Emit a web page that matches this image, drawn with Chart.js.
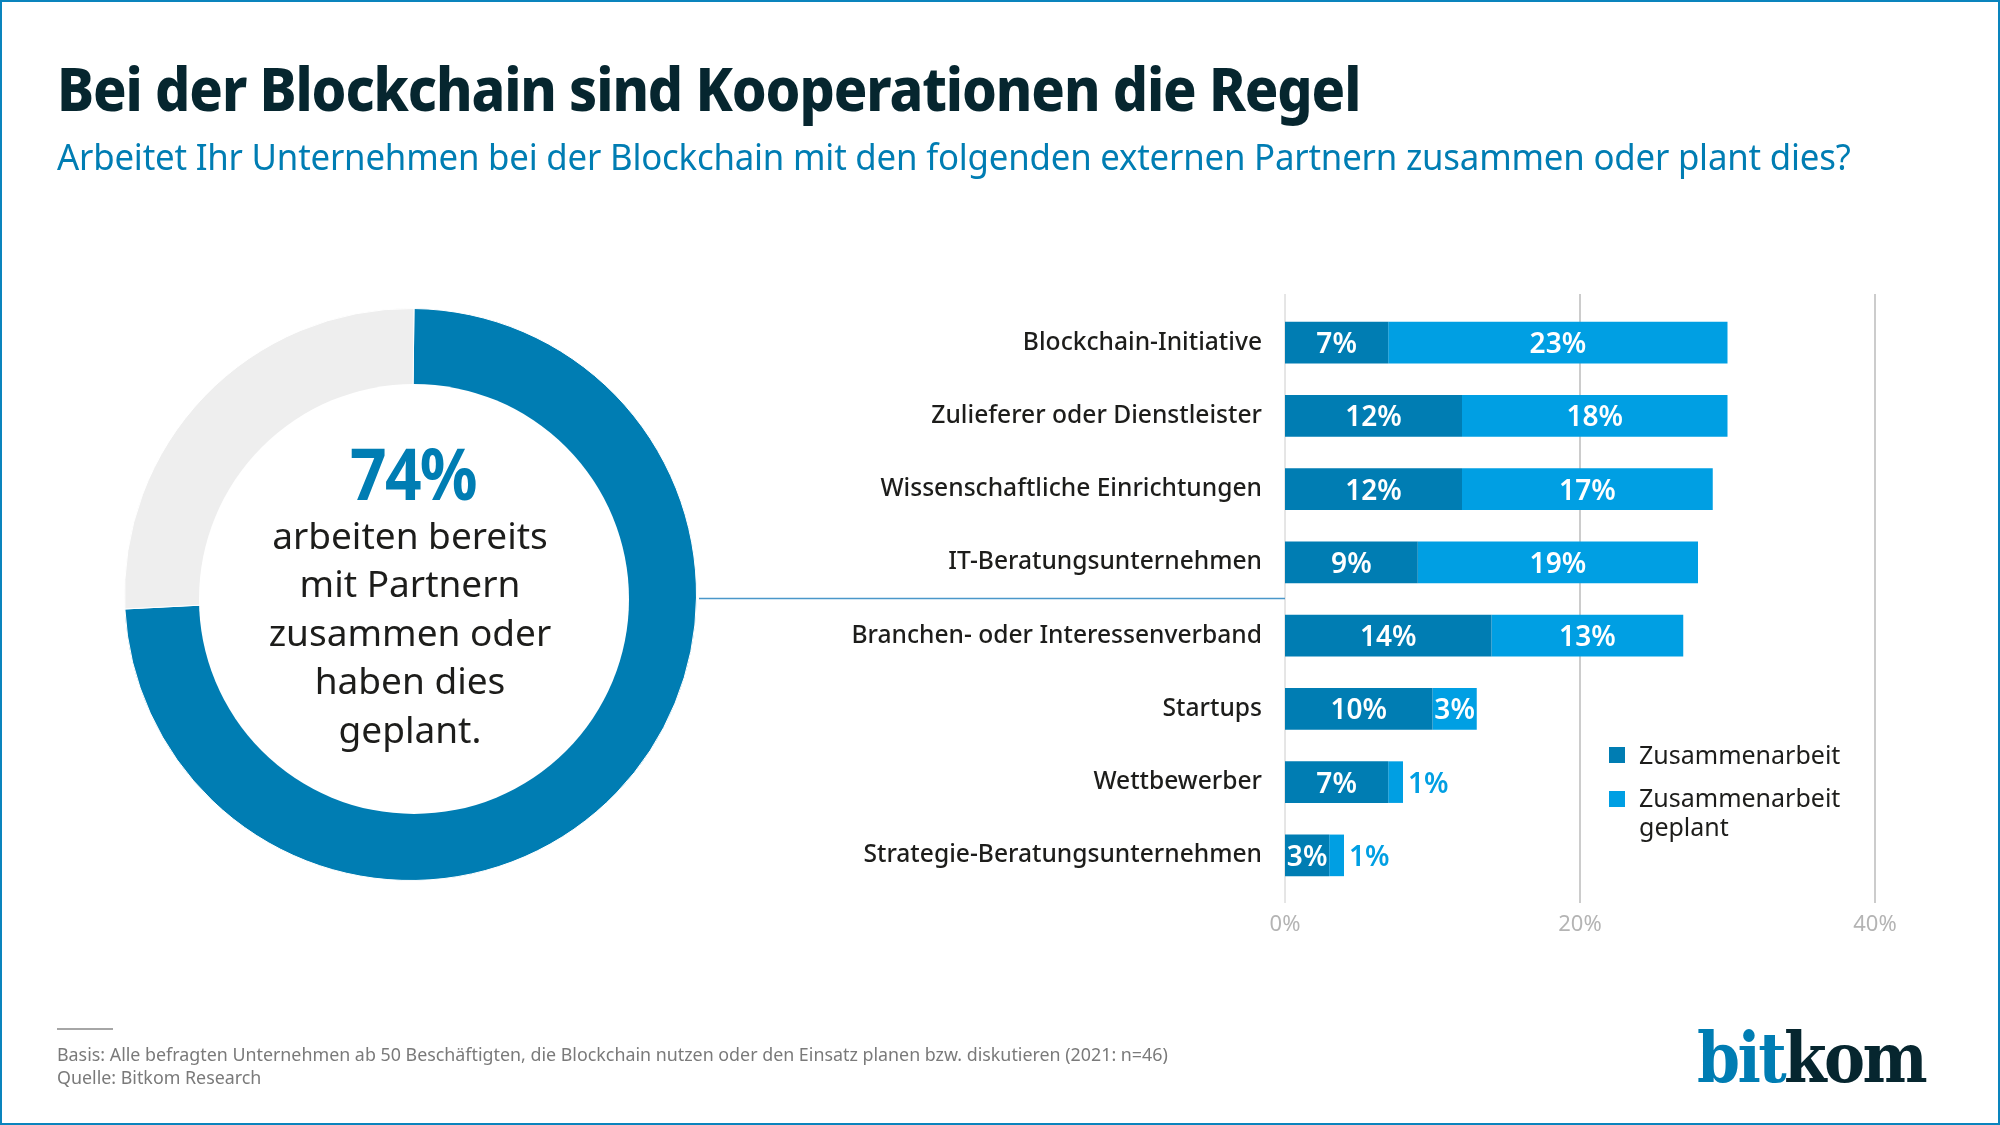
<!DOCTYPE html>
<html lang="de"><head><meta charset="utf-8">
<script src="https://cdn.jsdelivr.net/npm/chart.js@4"></script>
<style>
html,body{margin:0;padding:0;background:#fff}
#page{position:relative;width:2000px;height:1125px;overflow:hidden;background:#fff;font-family:"Noto Sans",sans-serif}
#frame{position:absolute;left:0;top:0;width:1996px;height:1121px;border:2px solid #0a84bd}
.t{position:absolute;white-space:nowrap;line-height:1}
canvas{position:absolute}
#title{left:57px;top:58px;font-size:60px;font-weight:800;color:#06262f;letter-spacing:-1.2px;transform-origin:0 0;transform:scaleX(.925)}
#sub{left:57px;top:137px;font-size:37px;color:#007db3;letter-spacing:-.2px;transform-origin:0 0;transform:scaleX(.94)}
#big{left:0;width:826px;text-align:center;top:436px;font-size:72px;font-weight:700;color:#007db3;letter-spacing:-2px;transform-origin:413px 0;transform:scaleX(.89)}
#mid{position:absolute;left:0;width:820px;top:510.5px;text-align:center;font-size:37px;line-height:48.5px;color:#1d1d1b}
#leg i{position:absolute;width:16px;height:16px}
#leg span{position:absolute;left:1639px;font-size:25px;line-height:29.5px;color:#1d1d1b;white-space:pre}
#rule{position:absolute;left:57px;top:1028px;width:56px;height:2px;background:#a6a6a6}
.foot{left:57px;font-size:17.85px;color:#7a7a7a}
#logo{left:1697px;top:1023px;font-family:"DejaVu Serif",serif;font-weight:700;font-size:70px;letter-spacing:-3px;transform-origin:0 0;transform:scaleX(.88)}
</style></head><body>
<div id="page">
<canvas id="donut" style="left:0;top:0"></canvas>
<canvas id="bars" style="left:0;top:0"></canvas>
<div id="frame"></div>
<div class="t" id="title">Bei der Blockchain sind Kooperationen die Regel</div>
<div class="t" id="sub">Arbeitet Ihr Unternehmen bei der Blockchain mit den folgenden externen Partnern zusammen oder plant dies?</div>
<div class="t" id="big">74%</div>
<div id="mid">arbeiten bereits<br>mit Partnern<br>zusammen oder<br>haben dies<br>geplant.</div>
<div id="leg"></div>
<div id="rule"></div>
<div class="t foot" style="top:1045.5px">Basis: Alle befragten Unternehmen ab 50 Beschäftigten, die Blockchain nutzen oder den Einsatz planen bzw. diskutieren (2021: n=46)</div>
<div class="t foot" style="top:1068.5px">Quelle: Bitkom Research</div>
<div class="t" id="logo"><span style="color:#007db3">bit</span><span style="color:#06262f">kom</span></div>
</div>
<script>
const categories=["Blockchain-Initiative","Zulieferer oder Dienstleister","Wissenschaftliche Einrichtungen","IT-Beratungsunternehmen","Branchen- oder Interessenverband","Startups","Wettbewerber","Strategie-Beratungsunternehmen"];
const zusammenarbeit=[7,12,12,9,14,10,7,3];
const geplant=[23,18,17,19,13,3,1,1];
const donutValues=[74,26];
const seriesNames=["Zusammenarbeit","Zusammenarbeit\ngeplant"];
const xTicks=[0,20,40];
const DARK="#007db3",LIGHT="#009fe3";
Chart.defaults.animation=false;
Chart.defaults.responsive=false;
Chart.defaults.devicePixelRatio=1;
function size(id,w,h){const c=document.getElementById(id);c.width=w;c.height=h;c.style.width=w+"px";c.style.height=h+"px";return c;}

/* the reference's ring has its hole slightly off-centre */
const holeDisc={id:"holeDisc",afterDatasetsDraw(ch){const c=ch.ctx;c.save();c.fillStyle="#fff";c.beginPath();c.arc(414,599,215,0,Math.PI*2);c.fill();c.restore();}};
new Chart(size("donut",822,1125),{type:"doughnut",plugins:[holeDisc],
 data:{labels:["Ja","Nein"],datasets:[{data:donutValues,backgroundColor:[DARK,"#eeeeee"],borderColor:"#fff",borderWidth:1}]},
 options:{rotation:.7,layout:{padding:{left:124,right:125,top:308,bottom:244}},cutout:"65%",plugins:{legend:{display:false},tooltip:{enabled:false}}}});

const barLabels={id:"barLabels",afterDatasetsDraw(ch){const c=ch.ctx;c.save();c.textBaseline="middle";c.font="600 28px 'Noto Sans'";
 ch.data.datasets.forEach((d,di)=>{ch.getDatasetMeta(di).data.forEach((b,i)=>{
  const v=d.data[i],t=v+"%";
  if(v<=1){c.fillStyle=LIGHT;c.textAlign="left";c.fillText(t,b.x+5,b.y+2.5);}
  else{c.fillStyle="#fff";c.textAlign="center";c.fillText(t,(b.base+b.x)/2,b.y+2.5);}
 });});c.restore();}};
const longGrid={id:"longGrid",beforeDatasetsDraw(ch){const c=ch.ctx,s=ch.scales.x;c.save();c.strokeStyle="#cccccc";
 xTicks.forEach(v=>{const x=Math.round(s.getPixelForValue(v));c.lineWidth=v?2:1;c.beginPath();c.moveTo(x,294);c.lineTo(x,903);c.stroke();});
 c.strokeStyle="#4a97c9";c.lineWidth=1.5;c.beginPath();c.moveTo(699,598.5);c.lineTo(s.getPixelForValue(0),598.5);c.stroke();c.restore();}};

new Chart(size("bars",2000,1125),{type:"bar",plugins:[longGrid,barLabels],
 data:{labels:categories,datasets:[
  {label:seriesNames[0],data:zusammenarbeit,backgroundColor:DARK},
  {label:seriesNames[1],data:geplant,backgroundColor:LIGHT}]},
 options:{indexAxis:"y",
  layout:{padding:{left:0,right:125,top:306,bottom:0}},
  scales:{
   x:{stacked:true,type:"linear",min:0,max:40,afterFit(s){s.height=1125-892;},
      grid:{display:false},border:{display:false},
      afterBuildTicks(s){s.ticks=xTicks.map(v=>({value:v}));},
      ticks:{color:"#b4b4b4",font:{family:"Noto Sans",size:22},padding:12,callback:v=>v+"%"}},
   y:{stacked:true,afterFit(s){s.width=1285;},grid:{display:false},border:{display:false},
      ticks:{color:"#1d1d1b",font:{family:"Noto Sans",size:24.6,weight:"500"},padding:15,autoSkip:false}}},
  datasets:{bar:{categoryPercentage:1,barPercentage:.568}},
  plugins:{legend:{display:false},tooltip:{enabled:false}}},
});

const leg=document.getElementById("leg");
[[747,DARK,740],[791,LIGHT,782.5]].forEach((r,i)=>{
 const m=document.createElement("i");m.style.cssText=`left:1609px;top:${r[0]}px;background:${r[1]}`;leg.appendChild(m);
 const s=document.createElement("span");s.style.top=r[2]+"px";s.textContent=seriesNames[i];leg.appendChild(s);});
</script>
</body></html>
